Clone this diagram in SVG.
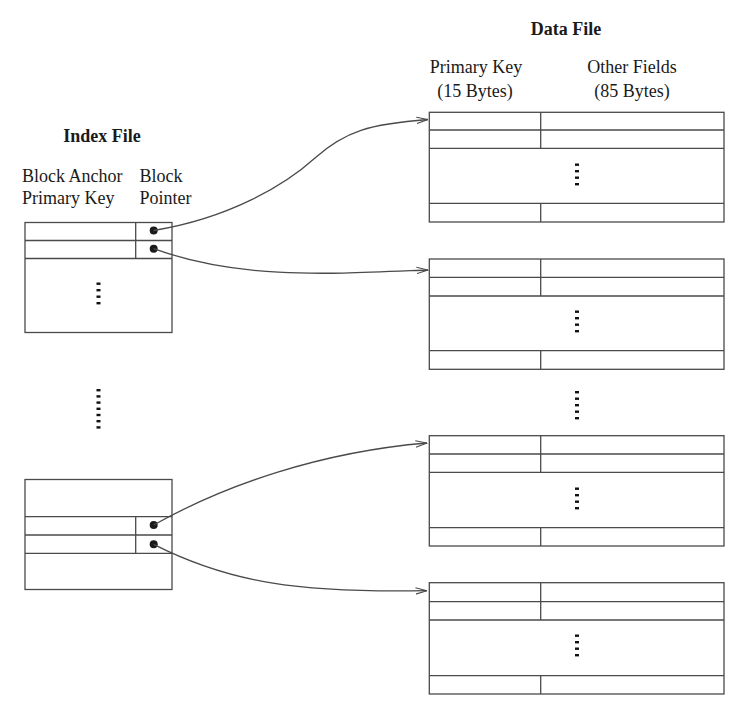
<svg xmlns="http://www.w3.org/2000/svg" width="752" height="716" viewBox="0 0 752 716">
<style>
.box{fill:none;stroke:#4a4a4a;stroke-width:1.3}
.ln{stroke:#4a4a4a;stroke-width:1.3}
.conn{fill:none;stroke:#4a4a4a;stroke-width:1.3}
.dot{fill:#1a1a1a}
.dash{fill:#111}
.t{font-family:"Liberation Serif","Times New Roman",serif;font-size:18px;fill:#1a1a1a}
.tb{font-family:"Liberation Serif","Times New Roman",serif;font-size:18px;font-weight:bold;fill:#1a1a1a}
</style>
<defs>
<marker id="arr" viewBox="0 0 12 8" refX="11.5" refY="4" markerWidth="12" markerHeight="8" markerUnits="userSpaceOnUse" orient="auto">
<path d="M0,0.8 L11.5,4 L0,7.2" fill="none" stroke="#4a4a4a" stroke-width="1.1"/>
</marker>
<g id="d4">
<rect x="-2" y="0" width="4" height="2.4"/>
<rect x="-2" y="6.5" width="4" height="2.4"/>
<rect x="-2" y="13" width="4" height="2.4"/>
<rect x="-2" y="19.5" width="4" height="2.4"/>
</g>
</defs>

<g id="labels">
<text class="tb" x="102" y="141.5" text-anchor="middle">Index File</text>
<text class="t" x="22" y="182">Block Anchor</text>
<text class="t" x="22" y="204">Primary Key</text>
<text class="t" x="139.5" y="182">Block</text>
<text class="t" x="139.5" y="204">Pointer</text>
<text class="tb" x="566" y="35" text-anchor="middle">Data File</text>
<text class="t" x="476" y="73" text-anchor="middle">Primary Key</text>
<text class="t" x="475" y="97" text-anchor="middle">(15 Bytes)</text>
<text class="t" x="632" y="73" text-anchor="middle">Other Fields</text>
<text class="t" x="632" y="97" text-anchor="middle">(85 Bytes)</text>
</g>

<g id="index-block-1">
<rect class="box" x="25" y="222.5" width="147" height="110"/>
<line class="ln" x1="25" y1="240.5" x2="172" y2="240.5"/>
<line class="ln" x1="25" y1="258.5" x2="172" y2="258.5"/>
<line class="ln" x1="135.7" y1="222.5" x2="135.7" y2="258.5"/>
<circle class="dot" cx="153.7" cy="230.5" r="4"/>
<circle class="dot" cx="153.7" cy="248.7" r="4"/>
<use href="#d4" class="dash" x="98.5" y="282.5"/>
</g>

<g id="index-gap">
<rect class="dash" x="96.5" y="389" width="4" height="2.4"/>
<rect class="dash" x="96.5" y="395.2" width="4" height="2.4"/>
<rect class="dash" x="96.5" y="401.4" width="4" height="2.4"/>
<rect class="dash" x="96.5" y="407.6" width="4" height="2.4"/>
<rect class="dash" x="96.5" y="413.8" width="4" height="2.4"/>
<rect class="dash" x="96.5" y="420" width="4" height="2.4"/>
<rect class="dash" x="96.5" y="426.2" width="4" height="2.4"/>
</g>

<g id="index-block-2">
<rect class="box" x="25" y="479.5" width="147" height="110"/>
<line class="ln" x1="25" y1="516.7" x2="172" y2="516.7"/>
<line class="ln" x1="25" y1="535" x2="172" y2="535"/>
<line class="ln" x1="25" y1="553.3" x2="172" y2="553.3"/>
<line class="ln" x1="135.7" y1="516.7" x2="135.7" y2="553.3"/>
<circle class="dot" cx="153.7" cy="525" r="4"/>
<circle class="dot" cx="153.7" cy="544.3" r="4"/>
</g>

<g id="data-block-1">
<rect class="box" x="429.3" y="112.3" width="294.7" height="109.7"/>
<line class="ln" x1="429.3" y1="130" x2="724" y2="130"/>
<line class="ln" x1="429.3" y1="148.3" x2="724" y2="148.3"/>
<line class="ln" x1="429.3" y1="203.3" x2="724" y2="203.3"/>
<line class="ln" x1="540.7" y1="112.3" x2="540.7" y2="148.3"/>
<line class="ln" x1="540.7" y1="203.3" x2="540.7" y2="222"/>
<use href="#d4" class="dash" x="577" y="163.5"/>
</g>

<g id="data-block-2">
<rect class="box" x="429.3" y="259" width="294.7" height="110.3"/>
<line class="ln" x1="429.3" y1="277.3" x2="724" y2="277.3"/>
<line class="ln" x1="429.3" y1="296" x2="724" y2="296"/>
<line class="ln" x1="429.3" y1="350.7" x2="724" y2="350.7"/>
<line class="ln" x1="540.7" y1="259" x2="540.7" y2="296"/>
<line class="ln" x1="540.7" y1="350.7" x2="540.7" y2="369.3"/>
<use href="#d4" class="dash" x="577" y="310.5"/>
</g>

<g id="data-gap">
<rect class="dash" x="575" y="391" width="4" height="2.4"/>
<rect class="dash" x="575" y="397.5" width="4" height="2.4"/>
<rect class="dash" x="575" y="404" width="4" height="2.4"/>
<rect class="dash" x="575" y="410.5" width="4" height="2.4"/>
<rect class="dash" x="575" y="417" width="4" height="2.4"/>
</g>

<g id="data-block-3">
<rect class="box" x="429.3" y="435.7" width="294.7" height="110.3"/>
<line class="ln" x1="429.3" y1="454" x2="724" y2="454"/>
<line class="ln" x1="429.3" y1="472.3" x2="724" y2="472.3"/>
<line class="ln" x1="429.3" y1="527.7" x2="724" y2="527.7"/>
<line class="ln" x1="540.7" y1="435.7" x2="540.7" y2="472.3"/>
<line class="ln" x1="540.7" y1="527.7" x2="540.7" y2="546"/>
<use href="#d4" class="dash" x="577" y="487.5"/>
</g>

<g id="data-block-4">
<rect class="box" x="429.3" y="582.7" width="294.7" height="111.3"/>
<line class="ln" x1="429.3" y1="601.7" x2="724" y2="601.7"/>
<line class="ln" x1="429.3" y1="620" x2="724" y2="620"/>
<line class="ln" x1="429.3" y1="675.7" x2="724" y2="675.7"/>
<line class="ln" x1="540.7" y1="582.7" x2="540.7" y2="620"/>
<line class="ln" x1="540.7" y1="675.7" x2="540.7" y2="694"/>
<use href="#d4" class="dash" x="577" y="634.5"/>
</g>

<g id="connectors">
<path class="conn" marker-end="url(#arr)" d="M153.7,230.5 C230,218 285,185 315,158 C345,131 370,124 428,119.5"/>
<path class="conn" marker-end="url(#arr)" d="M153.7,248.7 C240,280 330,274 428,270"/>
<path class="conn" marker-end="url(#arr)" d="M153.7,525 C225,485 320,452 427,443"/>
<path class="conn" marker-end="url(#arr)" d="M153.7,544.3 C230,583 300,593 427,590.7"/>
</g>
</svg>
